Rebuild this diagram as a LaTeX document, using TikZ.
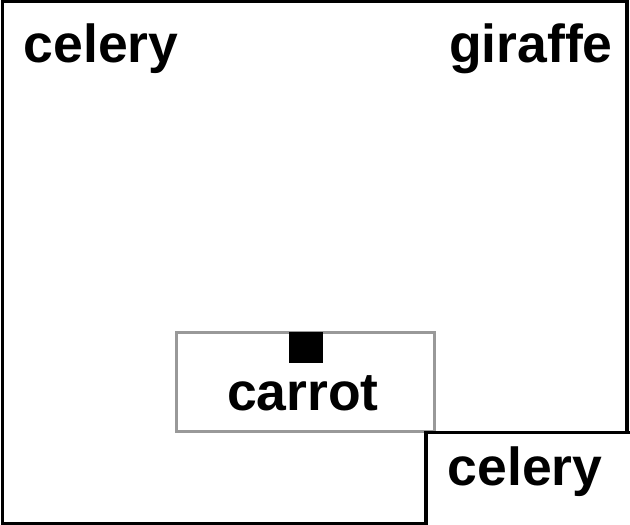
\documentclass[tikz,border=0pt]{standalone}
\usepackage{fontspec}
\setmainfont{Liberation Sans}
\definecolor{boxgray}{HTML}{999999}
\begin{document}
\begin{tikzpicture}[x=1pt,y=-1pt,
  lbl/.style={font=\fontsize{53.5}{60}\selectfont\bfseries, anchor=base, inner sep=0pt},
  frame/.style={draw=black, line width=3.8pt},
  graybox/.style={draw=boxgray, line width=3.2pt}]
\useasboundingbox (0,0) rectangle (630,525);
\draw[frame] (2.5,1.5) rectangle (627,523.5);
\draw[graybox] (176.5,332.5) rectangle (434.5,431.5);
\fill[black] (289,332) rectangle (323,363);
\begin{scope}
\clip (0,0) rectangle (630,525);
\draw[frame, fill=white] (426,432.5) rectangle (660,560);
\end{scope}
\node[lbl] (celeryA) at (101,62) {celery};
\node[lbl] (giraffe) at (531,62) {giraffe};
\node[lbl] (carrot) at (303,410) {carrot};
\node[lbl] (celeryB) at (525,485) {celery};
\end{tikzpicture}
\end{document}
